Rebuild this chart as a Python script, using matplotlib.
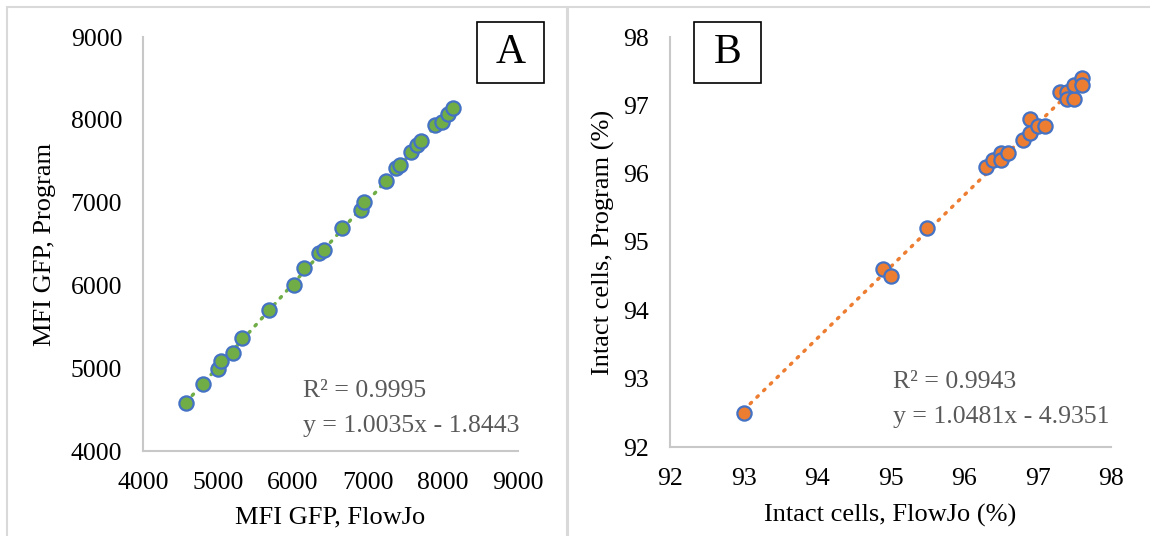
import matplotlib
matplotlib.use("Agg")
import matplotlib.pyplot as plt
from matplotlib.patches import Rectangle

# panel A: MFI GFP
mfiFlowJo = [4573, 4804, 5004, 5040, 5196, 5324, 5680, 6018, 6147, 6351, 6413, 6649,
             6903, 6947, 7236, 7369, 7427, 7573, 7657, 7702, 7893, 7991, 8071, 8138]
mfiProgram = [4580, 4809, 4987, 5090, 5180, 5361, 5703, 6005, 6207, 6395, 6428, 6697,
              6911, 7004, 7265, 7414, 7454, 7607, 7696, 7748, 7937, 7973, 8070, 8138]
fitA = (1.0035, -1.8443)
r2A = "0.9995"

# panel B: intact cells (%)
intactFlowJo = [93.0, 94.9, 95.0, 95.5, 96.3, 96.4, 96.5, 96.5, 96.6, 96.8, 96.9,
                96.9, 97.0, 97.1, 97.3, 97.4, 97.4, 97.5, 97.5, 97.6, 97.6]
intactProgram = [92.5, 94.6, 94.5, 95.2, 96.1, 96.2, 96.3, 96.2, 96.3, 96.5, 96.8,
                 96.6, 96.7, 96.7, 97.2, 97.2, 97.1, 97.1, 97.3, 97.4, 97.3]
fitB = (1.0481, -4.9351)
r2B = "0.9943"

ticksA = [4000, 5000, 6000, 7000, 8000, 9000]
ticksB = [92, 93, 94, 95, 96, 97, 98]

W, H = 1150, 536
plt.rcParams['font.family'] = ['Liberation Serif', 'DejaVu Serif']

fig = plt.figure(figsize=(W / 100, H / 100), dpi=100)

# panel frames
fig.patches.append(Rectangle((7 / W, -0.1), 560 / W, 1.1 - 7 / H, transform=fig.transFigure,
                             fill=False, edgecolor='#d9d9d9', lw=1.5))
fig.patches.append(Rectangle((568 / W, -0.1), 600 / W, 1.1 - 7 / H, transform=fig.transFigure,
                             fill=False, edgecolor='#d9d9d9', lw=1.5))

axA = fig.add_axes([143 / W, 1 - 451 / H, 375 / W, 414 / H])
axB = fig.add_axes([670 / W, 1 - 447 / H, 441 / W, 410 / H])


def styleAxis(ax, ticks):
	ax.set_xlim(ticks[0], ticks[-1])
	ax.set_ylim(ticks[0], ticks[-1])
	ax.set_xticks(ticks)
	ax.set_yticks(ticks)
	for s in ['top', 'right']:
		ax.spines[s].set_visible(False)
	for s in ['left', 'bottom']:
		ax.spines[s].set_color('#c8c8c8')
		ax.spines[s].set_linewidth(1.5)
	ax.tick_params(length=0, pad=15, labelsize=18.5, colors='black')
	ax.patch.set_alpha(0)


def drawPanel(ax, xs, ys, fit, r2, color, ticks, xlabel, ylabel, txtPos, lblPos):
	styleAxis(ax, ticks)
	x0, x1 = min(xs), max(xs)
	ax.plot([x0, x1], [fit[0] * x0 + fit[1], fit[0] * x1 + fit[1]], color=color,
	        lw=2.5, linestyle=(0, (0.5, 2.2)), dash_capstyle='round', zorder=2)
	ax.scatter(xs, ys, s=105, facecolor=color, edgecolor='#4472c4', linewidth=1.6, zorder=3,
	           clip_on=False)
	sign = '-' if fit[1] < 0 else '+'
	ax.text(txtPos[0], txtPos[1], f"R² = {r2}", transform=ax.transAxes, fontsize=18.5,
	        color='#595959', va='center')
	ax.text(txtPos[0], txtPos[1] - 0.085, f"y = {fit[0]:.4f}x {sign} {abs(fit[1]):.4f}",
	        transform=ax.transAxes, fontsize=18.5, color='#595959', va='center')
	ax.set_xlabel(xlabel, fontsize=19)
	ax.set_ylabel(ylabel, fontsize=19)
	ax.xaxis.set_label_coords(0.5, lblPos[0])
	ax.yaxis.set_label_coords(lblPos[1], 0.5)
	ax.xaxis.label.set_va('center')
	ax.yaxis.label.set_va('center')


drawPanel(axA, mfiFlowJo, mfiProgram, fitA, r2A, '#70ad47', ticksA,
          "MFI GFP, FlowJo", "MFI GFP, Program", (0.427, 0.146), (-0.16, -0.262))
drawPanel(axB, intactFlowJo, intactProgram, fitB, r2B, '#ed7d31', ticksB,
          "Intact cells, FlowJo (%)", "Intact cells, Program (%)", (0.506, 0.158), (-0.166, -0.152))

# letter boxes
for (bx, by, letter) in [(477, 22, "A"), (694, 22, "B")]:
	fig.patches.append(Rectangle((bx / W, 1 - (by + 61) / H), 67 / W, 61 / H,
	                             transform=fig.transFigure, fill=False, edgecolor='black', lw=1.2))
	fig.text((bx + 33.5) / W, 1 - (by + 31) / H, letter, fontsize=30, ha='center', va='center')

fig.savefig("out.png", dpi=100)
